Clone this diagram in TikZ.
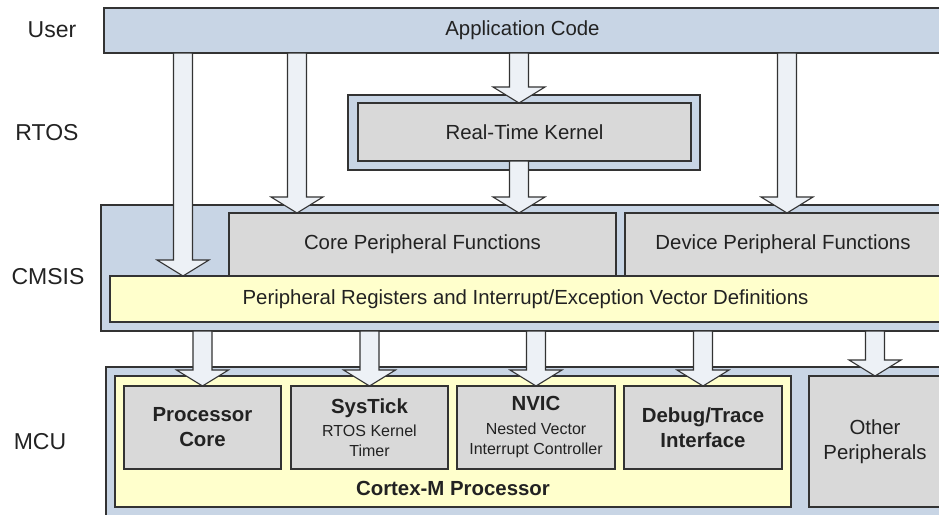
\documentclass[tikz,border=0pt]{standalone}
\usepackage{fontspec}
\setmainfont{Liberation Sans}
\usepackage{xcolor}
\usepackage{tikz}
\usetikzlibrary{positioning, calc}
\definecolor{edge}{HTML}{333333}
\definecolor{layerbg}{HTML}{C8D5E5}
\definecolor{unitbg}{HTML}{D9D9D9}
\definecolor{corebg}{HTML}{FFFFCC}
\definecolor{arrowbg}{HTML}{EDF1F6}
\definecolor{ink}{HTML}{222222}
\newcommand{\txtmain}{\fontsize{20.4}{25}\selectfont}
\newcommand{\txtsmall}{\fontsize{16}{20}\selectfont}
\newcommand{\txttag}{\fontsize{23}{27}\selectfont}
\tikzset{
  layer/.style={
    draw=edge, line width=1.1pt, fill=layerbg,
    outer sep=0pt, inner sep=0pt,
    text=ink, font=\txtmain
  },
  unit/.style={
    draw=edge, line width=1.1pt, fill=unitbg,
    outer sep=0pt, inner sep=2pt,
    align=center, text=ink, font=\txtmain
  },
  cpu/.style={
    draw=edge, line width=1.1pt, fill=corebg,
    outer sep=0pt, inner sep=0pt,
    text=ink, font=\txtmain
  },
  tag/.style={text=ink, font=\txttag},
  flow/.style={draw=edge, line width=1.1pt, fill=arrowbg, line join=miter}
}
% hollow block arrow, tip on the second point
\newcommand{\blockarrow}[2]{%
  \draw[flow] let \p1=(#1), \p2=(#2) in
    ({\x2-9.5pt},\y1) -- ({\x2-9.5pt},{\y2+16pt}) -- ({\x2-26pt},{\y2+16pt})
    -- (\x2,\y2) -- ({\x2+26pt},{\y2+16pt}) -- ({\x2+9.5pt},{\y2+16pt})
    -- ({\x2+9.5pt},\y1) -- cycle;}

\begin{document}
\begin{tikzpicture}[x=1pt, y=-1pt]
  \useasboundingbox (0,0) rectangle (939,514);

  % layer names
  \node[tag] (user) at (52,30) {User};
  \node[tag] (rtos) at (47,133) {RTOS};
  \node[tag] (cmsislbl) at (48,277) {CMSIS};
  \node[tag] (mculbl) at (40,442) {MCU};

  % user
  \node[layer, minimum width=837pt, minimum height=45pt] (app) at (522.5,30.5) {Application Code};

  % rtos
  \node[layer, minimum width=352pt, minimum height=75pt] (rtkbox) at (524,132.5) {};
  \node[unit, minimum width=333pt, minimum height=58pt] (rtk) at (524.5,132) {Real-Time Kernel};

  % cmsis
  \node[layer, minimum width=840pt, minimum height=126pt] (cmsis) at (521,268) {};
  \node[unit, minimum width=387pt, minimum height=63pt] (core) at (422.5,244.5) {Core Peripheral Functions};
  \node[unit, minimum width=316pt, minimum height=63pt] (device) at (783,244.5) {Device Peripheral Functions};
  \node[cpu, minimum width=831pt, minimum height=46pt] (regs) at (525.5,299)
    {Peripheral Registers and Interrupt/Exception Vector Definitions};

  % mcu
  \node[layer, minimum width=835pt, minimum height=160pt] (mcu) at (523.5,447) {};
  \node[cpu, minimum width=676pt, minimum height=131pt] (cortex) at (453,441.5) {};
  \node[unit, minimum width=157pt, minimum height=83pt] (proc) at (202.5,427.5)
    {\textbf{Processor}\\\textbf{Core}};
  \node[unit, minimum width=157pt, minimum height=83pt] (systick) at (369.5,427.5)
    {\textbf{SysTick}\\[-2pt]{\txtsmall RTOS Kernel}\\[-5pt]{\txtsmall Timer}};
  \node[unit, minimum width=158pt, minimum height=83pt] (nvic) at (536,427.5)
    {\textbf{NVIC}\\[-1pt]{\txtsmall Nested Vector}\\[-5pt]{\txtsmall Interrupt Controller}};
  \node[unit, minimum width=158pt, minimum height=83pt] (debug) at (703,427.5)
    {\textbf{Debug/Trace}\\\textbf{Interface}};
  \node[text=ink, font=\txtmain\bfseries] (cortexlbl) at ([yshift=19pt]cortex.south) {Cortex-M Processor};
  \node[unit, minimum width=132pt, minimum height=131pt] (other) at (875,441.5) {Other\\Peripherals};

  % arrows
  \blockarrow{app.south -| 183,0}{regs.north -| 183,0}
  \blockarrow{app.south -| 297,0}{core.north -| 297,0}
  \blockarrow{app.south -| 519,0}{rtk.north -| 519,0}
  \blockarrow{rtk.south -| 519,0}{core.north -| 519,0}
  \blockarrow{app.south -| 787,0}{device.north -| 787,0}
  \blockarrow{cmsis.south -| proc.north}{proc.north}
  \blockarrow{cmsis.south -| systick.north}{systick.north}
  \blockarrow{cmsis.south -| nvic.north}{nvic.north}
  \blockarrow{cmsis.south -| debug.north}{debug.north}
  \blockarrow{cmsis.south -| other.north}{other.north}
\end{tikzpicture}
\end{document}
